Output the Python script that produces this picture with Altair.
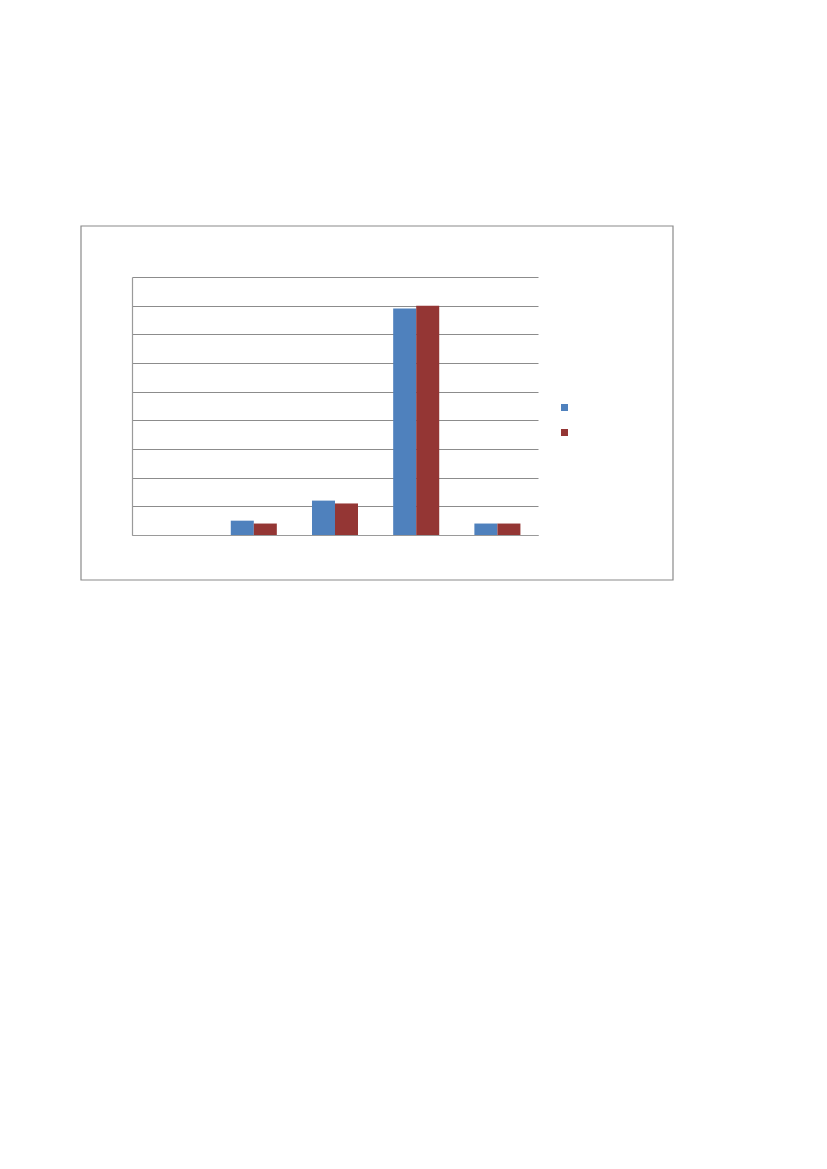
import altair as alt
import pandas as pd

categories = ["C1", "C2", "C3", "C4", "C5"]
series_names = ["Series 1", "Series 2"]
series1 = [0, 5, 12, 79, 4]
series2 = [0, 4, 11, 80, 4]

rows = []
for i, c in enumerate(categories):
    rows.append({"cat": c, "series": series_names[0], "value": series1[i]})
    rows.append({"cat": c, "series": series_names[1], "value": series2[i]})
df = pd.DataFrame(rows)

colors = ["#4F81BD", "#943634"]

bars = alt.Chart(df).mark_bar().encode(
    x=alt.X("cat:N", sort=categories,
            scale=alt.Scale(paddingInner=0.433, paddingOuter=0.2165),
            axis=alt.Axis(title=None, labels=False, ticks=False, domain=True,
                          domainColor="#9a9a9a", domainWidth=1.2, grid=False)),
    xOffset=alt.XOffset("series:N", sort=series_names),
    y=alt.Y("value:Q", scale=alt.Scale(domain=[0, 90], nice=False),
            axis=alt.Axis(title=None, labels=False, ticks=False, values=list(range(0, 91, 10)),
                          domain=True, domainColor="#9a9a9a", domainWidth=1.2,
                          grid=True, gridColor="#8c8c8c", gridWidth=1)),
    color=alt.Color("series:N", sort=series_names,
                    scale=alt.Scale(domain=series_names, range=colors),
                    legend=alt.Legend(title=None, orient="none", legendX=429, legendY=127,
                                      symbolType="square", symbolSize=49, symbolStrokeWidth=0,
                                      labelFontSize=1, labelColor="white", rowPadding=18,
                                      labelExpr="''")),
)

frame_df = pd.DataFrame({"k": [0]})
frame = alt.Chart(frame_df).mark_rect(fill=None, stroke="#8a8a8a", strokeWidth=1.2, clip=False).encode(
    x=alt.value(-51), x2=alt.value(541), y=alt.value(-51), y2=alt.value(303)
)

chart = alt.layer(frame, bars).properties(
    width=406, height=258,
    autosize=alt.AutoSizeParams(type="none"),
    padding={"left": 124, "top": 269, "right": 150, "bottom": 300},
    background="white",
).configure_view(stroke=None)

chart.save("out.html", embed_options={"renderer": "svg", "actions": False})
